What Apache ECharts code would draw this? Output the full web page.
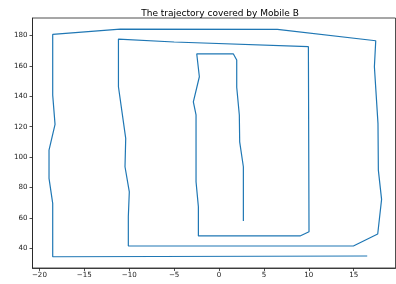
<!DOCTYPE html>
<html>
<head>
<meta charset="utf-8">
<script src="https://cdn.jsdelivr.net/npm/echarts@6/dist/echarts.min.js"></script>
<style>
  html, body { margin: 0; padding: 0; background: #fff; }
  #chart { width: 396px; height: 284px; }
</style>
</head>
<body>
<div id="chart"></div>
<script>
// trajectory points of Mobile B
var xs = [2.71, 2.71, 2.3, 2.26, 1.97, 1.97, 1.6, -2.48, -2.19, -2.86, -2.56, -2.56, -2.3, -2.3,
  9.02, 10.02, 9.95, -5.0, -11.2, -11.2, -10.39, -10.47, -9.99, -10.1, -10.1,
  14.96, 17.67, 18.1, 17.74, 17.7, 17.3, 17.45, 6.5, -11.0, -18.52, -18.52, -18.26,
  -18.93, -18.93, -18.52, -18.52, 16.5];
var ys = [57.8, 93.6, 110, 127.7, 146, 163.9, 167.9, 167.9, 152.9, 136.4, 127.7, 83.7, 67.3, 48,
  48, 50.8, 172.7, 175.8, 177.7, 146.3, 112.3, 93.6, 77.1, 60.7, 41.4,
  41.4, 49.3, 72.1, 91.4, 122, 159.5, 176.6, 184.1, 184.3, 180.8, 140.8, 121.5,
  104.6, 86, 69.5, 34.3, 34.8];
var xTicks = [-20, -15, -10, -5, 0, 5, 10, 15];
var yTicks = [40, 60, 80, 100, 120, 140, 160, 180];

var points = [];
for (var i = 0; i < xs.length; i++) {
  points.push([xs[i], ys[i]]);
}

function fmt(v) {
  return v < 0 ? '\u2212' + Math.abs(v) : String(v);
}

var chart = echarts.init(document.getElementById('chart'), null, { renderer: 'canvas' });
var axisCommon = {
  type: 'value',
  splitLine: { show: false },
  axisLine: { show: true, onZero: false, lineStyle: { color: '#222', width: 0.8 } },
  axisTick: { show: true, length: 3, lineStyle: { color: '#222', width: 0.8 } },
  axisLabel: { color: '#222', fontFamily: 'DejaVu Sans', fontSize: 7.1, formatter: fmt }
};
chart.setOption({
  animation: false,
  title: {
    text: 'The trajectory covered by Mobile B',
    left: 215, top: 4, textAlign: 'center',
    textStyle: { fontFamily: 'DejaVu Sans', fontSize: 9, fontWeight: 'normal', color: '#000' }
  },
  grid: { left: 32.5, right: 0.5, top: 18, bottom: 16, show: true, borderColor: '#222', borderWidth: 0.8 },
  xAxis: echarts.util.merge({
    min: -20.77, max: 19.65,
    axisTick: { customValues: xTicks },
    axisLabel: { customValues: xTicks, margin: 4 }
  }, axisCommon),
  yAxis: echarts.util.merge({
    min: 26.9, max: 191.6,
    axisTick: { customValues: yTicks },
    axisLabel: { customValues: yTicks, margin: 5 }
  }, axisCommon),
  series: [{
    type: 'line',
    data: points,
    showSymbol: false,
    lineStyle: { color: '#1f77b4', width: 1.2 }
  }]
});
</script>
</body>
</html>
